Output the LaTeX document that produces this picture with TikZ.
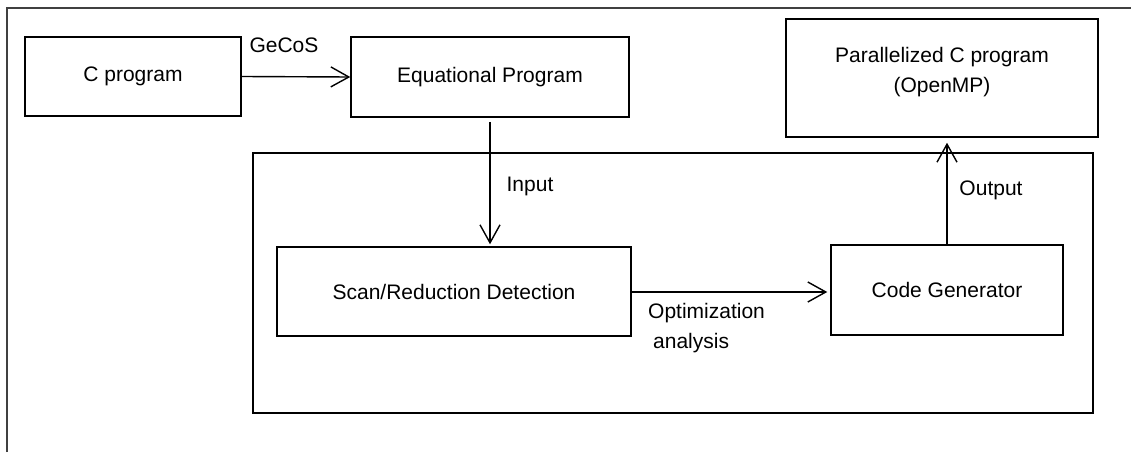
\documentclass[tikz,border=0pt]{standalone}
\usepackage{fontspec}
\setmainfont{Liberation Sans}
\usetikzlibrary{arrows.meta}
\begin{document}
\begin{tikzpicture}[x=1pt,y=-1pt,
  font=\fontsize{21}{30}\selectfont,
  box/.style={draw, line width=1.5pt, rectangle, inner sep=0pt, align=center},
  flow/.style={draw, line width=1.4pt, -{Straight Barb[length=18pt,width=20pt,line width=1.4pt]}},
  lbl/.style={inner sep=0pt, align=left}]
\useasboundingbox (0,0) rectangle (1131,452);
% page frame (top and left edges)
\draw[line width=1.3pt, black!75] (7,452) -- (7,8) -- (1131,8);
% enclosing tool box
\node[box, minimum width=840, minimum height=260] (tool) at (673,283) {};
% boxes
\node[box, minimum width=216, minimum height=79] (cprog) at (133,76.5) {C program};
\node[box, minimum width=278, minimum height=80] (eqprog) at (490,77) {Equational Program};
\node[box, minimum width=312, minimum height=118, text depth=16pt] (par) at (942,78) {Parallelized C program\\(OpenMP)};
\node[box, minimum width=354, minimum height=89] (scan) at (454,291.5) {Scan/Reduction Detection};
\node[box, minimum width=232, minimum height=90] (codegen) at (947,290) {Code Generator};
% connectors
\draw[flow] (cprog.east) -- (eqprog.west);
\node[lbl] (gecos) at (284,45) {GeCoS};
\draw[flow, shorten <=4pt, shorten >=2pt] (eqprog.south) -- (eqprog.south |- scan.north);
\node[lbl] (input) at (530,186) {Input};
\draw[flow, shorten >=3pt] (scan.east |- 0,292) -- (codegen.west |- 0,292);
\node[lbl, anchor=north west] (opt) at (648,303) {Optimization\\\hspace{5pt}analysis};
\draw[flow, shorten >=5pt] (codegen.north) -- (codegen.north |- par.south);
\node[lbl] (output) at (991,190) {Output};
\end{tikzpicture}
\end{document}
